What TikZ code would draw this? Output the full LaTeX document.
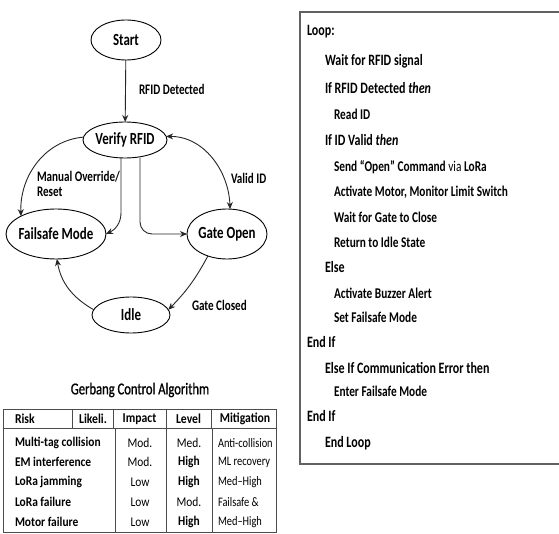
\documentclass[tikz,border=0pt]{standalone}
\usepackage{fontspec}
\setmainfont{Carlito}[FakeStretch=0.76]
\newfontfamily\titlefont{Carlito}[FakeStretch=0.76,FakeBold=1]
\newfontfamily\tabfont{Carlito}[FakeStretch=0.86]
\newfontfamily\mitfont{Carlito}[FakeStretch=0.8]
\usetikzlibrary{arrows.meta,shapes.geometric,calc}

\begin{document}
\begin{tikzpicture}[x=1pt,y=1pt,
  every node/.style={inner sep=0pt, outer sep=0pt},
  state/.style={draw=black, line width=0.9pt, ellipse, inner sep=-6pt,
    font=\fontsize{17}{19}\selectfont\bfseries},
  trans/.style={draw=black!85, line width=0.9pt,
    -{Stealth[length=7pt,width=6pt]}},
  elabel/.style={anchor=west, font=\fontsize{14.6}{16}\selectfont\bfseries, align=left},
  algo/.style={anchor=west, font=\fontsize{15.8}{17}\selectfont\bfseries},
  algob/.style={anchor=west, font=\fontsize{14.9}{17}\selectfont\bfseries},
  frame/.style={draw=black!62, line width=1.4pt},
  tline/.style={draw=black!70, line width=0.8pt},
  th/.style={font=\tabfont\fontsize{13.6}{15}\selectfont\bfseries},
  tb/.style={font=\tabfont\fontsize{13.3}{15}\selectfont},
  tbb/.style={font=\tabfont\fontsize{13.3}{15}\selectfont\bfseries},
  tm/.style={anchor=west, font=\mitfont\fontsize{13}{15}\selectfont}
]
\useasboundingbox (0,0) rectangle (559,-534);
\fill[white] (0,0) rectangle (559,-534);

% ---- state machine ----
\node[state, minimum width=70, minimum height=40] (start)  at (126,-40)  {Start};
\node[state, minimum width=84, minimum height=36] (verify) at (125,-140) {Verify RFID};
\node[state, minimum width=100, minimum height=50] (fail)  at (56,-234)  {Failsafe Mode};
\node[state, minimum width=80, minimum height=50] (gate)   at (227,-234) {Gate Open};
\node[state, minimum width=78, minimum height=36] (idle)   at (131,-315) {Idle};

\draw[trans] (start) -- (verify);
\node[elabel] (lrfid) at (139,-89) {RFID Detected};

\draw[trans] (verify.176) to[out=185,in=92] (fail.153);
\node[elabel] (lman) at (37,-184) {Manual Override/\\[-1pt]Reset};

\draw[trans] ([xshift=-4pt]verify.south) -- ++(0,-55) to[out=-90,in=25] (fail.east);
\draw[trans, rounded corners=12pt] ([xshift=15pt]verify.south) |- (gate.west);

\draw[trans, {Stealth[length=7pt,width=6pt]}-{Stealth[length=7pt,width=6pt]}]
  (verify.5) to[out=0,in=92] (gate.83);
\node[elabel] (lvalid) at (231,-178) {Valid ID};

\draw[trans] (gate.229) to[bend left=8] (idle.8);
\node[elabel] (lclosed) at (192,-305) {Gate Closed};

\draw[trans] (idle.172) to[out=150,in=-80] (fail.272);

% ---- risk table ----
\node[font=\titlefont\fontsize{16.6}{18}\selectfont] (ttl) at (140,-390) {Gerbang Control Algorithm};

\draw[tline] (3,-409) rectangle (276,-532);
\draw[tline] (3,-428) -- (276,-428);
\foreach \x in {72,113,166,211} \draw[tline] (\x,-409) -- (\x,-428);
\foreach \x in {115,166,212} \draw[tline] (\x,-428) -- (\x,-532);

\node[th, anchor=west] (h1) at (15,-419) {Risk};
\node[th] (h2) at (93,-419)  {Likeli.};
\node[th] (h3) at (139.5,-419) {Impact};
\node[th] (h4) at (188.5,-419) {Level};
\node[th] (h5) at (245,-419) {Mitigation};

\node[tbb, anchor=west] (r1a) at (15,-443) {Multi-tag collision};
\node[tb] (r1b) at (140,-443) {Mod.};
\node[tb] (r1c) at (189,-443) {Med.};
\node[tm] (r1d) at (218,-443) {Anti-collision};

\node[tbb, anchor=west] (r2a) at (15,-462) {EM interference};
\node[tb] (r2b) at (140,-462) {Mod.};
\node[tbb] (r2c) at (189,-462) {High};
\node[tm] (r2d) at (218,-462) {ML recovery};

\node[tbb, anchor=west] (r3a) at (15,-482) {LoRa jamming};
\node[tb] (r3b) at (140,-482) {Low};
\node[tbb] (r3c) at (189,-482) {High};
\node[tm] (r3d) at (218,-482) {Med–High};

\node[tbb, anchor=west] (r4a) at (15,-502) {LoRa failure};
\node[tb] (r4b) at (140,-502) {Low};
\node[tb] (r4c) at (189,-502) {Mod.};
\node[tm] (r4d) at (218,-502) {Failsafe \&};

\node[tbb, anchor=west] (r5a) at (15,-522) {Motor failure};
\node[tb] (r5b) at (140,-522) {Low};
\node[tbb] (r5c) at (189,-522) {High};
\node[tm] (r5d) at (218,-522) {Med–High};

% ---- algorithm listing ----
\draw[frame] (300,-12) rectangle (575,-464);
\node[algo]  (a1)  at (307,-32)  {Loop:};
\node[algo]  (a2)  at (325,-61)  {Wait for RFID signal};
\node[algo]  (a3)  at (325,-88)  {If RFID Detected \textit{then}};
\node[algob] (a4)  at (334,-114) {Read ID};
\node[algo]  (a5)  at (325,-140) {If ID Valid \textit{then}};
\node[algob] (a6)  at (334,-167) {Send “Open” Command {\mdseries via} LoRa};
\node[algob] (a7)  at (334,-192) {Activate Motor, Monitor Limit Switch};
\node[algob] (a8)  at (334,-217) {Wait for Gate to Close};
\node[algob] (a9)  at (334,-242) {Return to Idle State};
\node[algo]  (a10) at (325,-267) {Else};
\node[algob] (a11) at (334,-293) {Activate Buzzer Alert};
\node[algob] (a12) at (334,-317) {Set Failsafe Mode};
\node[algo]  (a13) at (307,-342) {End If};
\node[algo]  (a14) at (325,-368) {Else If Communication Error then};
\node[algob] (a15) at (334,-391) {Enter Failsafe Mode};
\node[algo]  (a16) at (307,-416) {End If};
\node[algo]  (a17) at (325,-443) {End Loop};
\end{tikzpicture}
\end{document}
